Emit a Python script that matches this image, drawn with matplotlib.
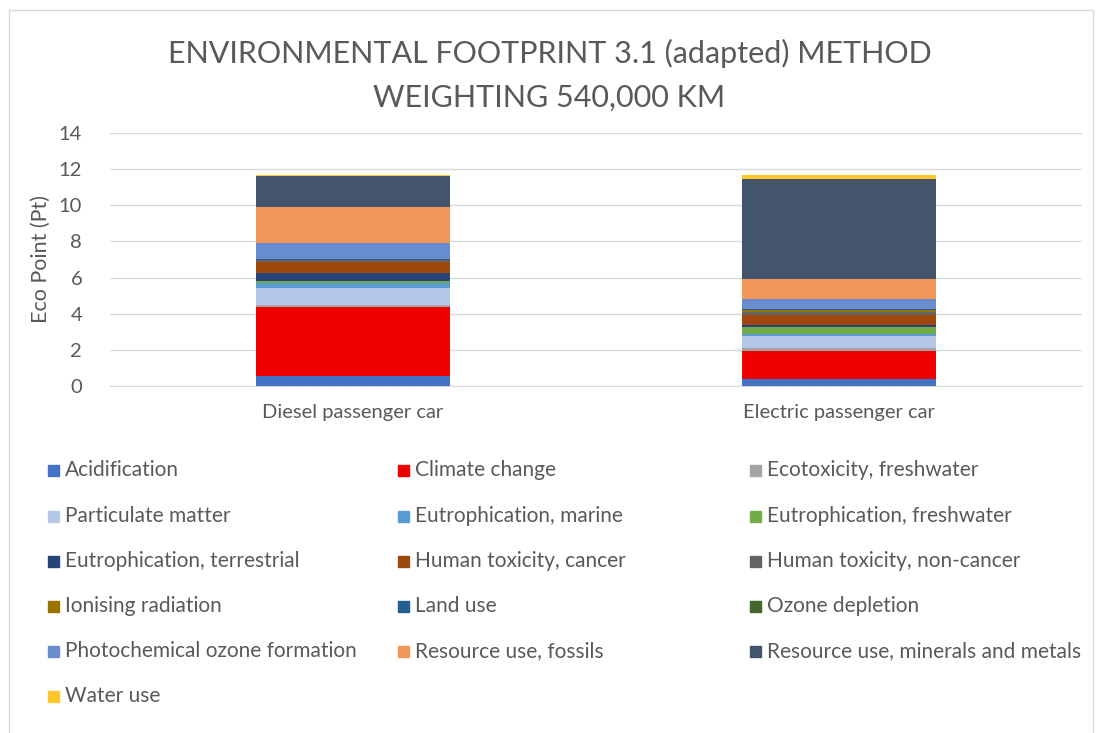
import matplotlib.pyplot as plt
from matplotlib.patches import Rectangle

plt.rcParams['font.family'] = ['Lato', 'DejaVu Sans']

cars = ['Diesel passenger car', 'Electric passenger car']

categories = [
    'Acidification', 'Climate change', 'Ecotoxicity, freshwater',
    'Particulate matter', 'Eutrophication, marine', 'Eutrophication, freshwater',
    'Eutrophication, terrestrial', 'Human toxicity, cancer', 'Human toxicity, non-cancer',
    'Ionising radiation', 'Land use', 'Ozone depletion',
    'Photochemical ozone formation', 'Resource use, fossils', 'Resource use, minerals and metals',
    'Water use',
]

diesel = [0.56, 3.81, 0.13, 0.93, 0.26, 0.13, 0.41, 0.61, 0.12, 0.03, 0.03, 0.01,
          0.87, 2.00, 1.74, 0.02]
electric = [0.37, 1.56, 0.17, 0.69, 0.09, 0.39, 0.09, 0.57, 0.15, 0.11, 0.07, 0.01,
            0.52, 1.13, 5.52, 0.26]

colors = ['#4472C4', '#EE0000', '#A5A5A5', '#B4C7E7', '#5B9BD5', '#70AD47',
          '#264478', '#9E480E', '#636363', '#997300', '#255E91', '#43682B',
          '#698ED0', '#F1975A', '#44546A', '#FFC72C']

grey = '#595959'

fig = plt.figure(figsize=(10.99, 7.33), dpi=100)
ax = fig.add_axes([0.1001, 0.4734, 0.8845, 0.3452])

x = [0, 1]
bottoms = [0.0, 0.0]
for i, name in enumerate(categories):
    vals = [diesel[i], electric[i]]
    ax.bar(x, vals, 0.4, bottom=bottoms, color=colors[i], label=name, zorder=3)
    bottoms = [bottoms[0] + vals[0], bottoms[1] + vals[1]]

ax.set_xlim(-0.5, 1.5)
ax.set_ylim(0, 14)
ax.set_yticks(range(0, 15, 2))
ax.set_xticks(x)
ax.set_xticklabels(cars)
ax.tick_params(axis='both', length=0, labelsize=14.5, colors=grey)
ax.tick_params(axis='x', pad=13)
ax.tick_params(axis='y', pad=20)
ax.grid(axis='y', color='#D9D9D9', linewidth=1, zorder=0)
for s in ['top', 'right', 'left']:
    ax.spines[s].set_visible(False)
ax.spines['bottom'].set_color('#D9D9D9')
ax.set_ylabel('Eco Point (Pt)', fontsize=15.5, color=grey, labelpad=6)

fig.text(0.5, 0.927, 'ENVIRONMENTAL FOOTPRINT 3.1 (adapted) METHOD', ha='center',
         va='center', fontsize=22, color=grey)
fig.text(0.5, 0.866, 'WEIGHTING 540,000 KM', ha='center', va='center',
         fontsize=22, color=grey)

# legend laid out row-wise in three columns
col_x = [48, 398, 750]
row_y = [470, 516, 561, 606, 651, 696]
W, H = 1099, 733
for i, name in enumerate(categories):
    r, c = i // 3, i % 3
    px, py = col_x[c], row_y[r]
    fig.patches.append(Rectangle(((px) / W, 1 - (py + 6) / H), 11 / W, 11 / H,
                                 transform=fig.transFigure, color=colors[i]))
    fig.text((px + 17) / W, 1 - py / H, name, ha='left', va='center',
             fontsize=15, color=grey)

fig.patches.append(Rectangle((9 / W, -0.05), 1084 / W, 1.05 - 10 / H,
                             transform=fig.transFigure, fill=False,
                             edgecolor='#D9D9D9', linewidth=1))

fig.savefig('out.png', dpi=100)
